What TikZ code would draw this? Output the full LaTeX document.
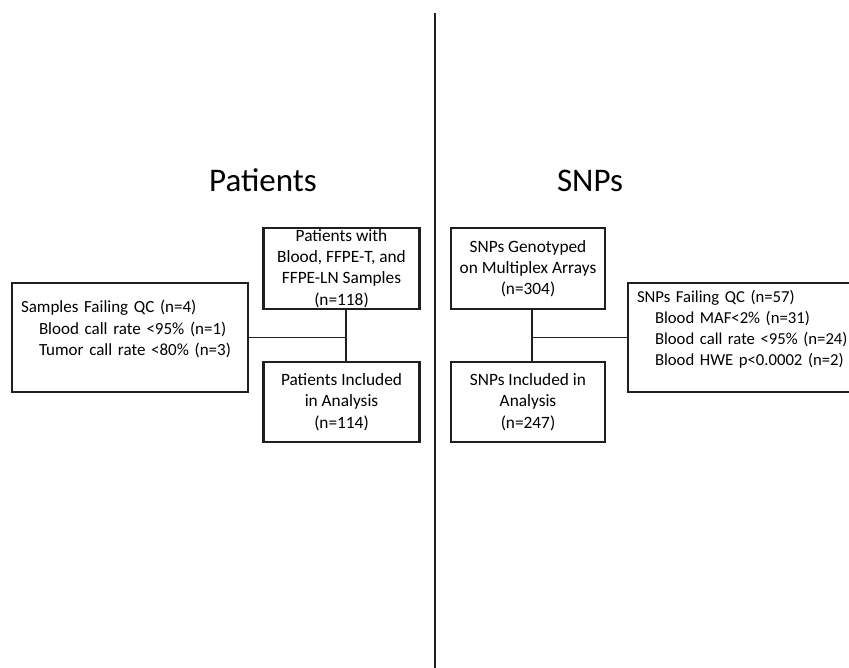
\documentclass[tikz,border=0pt]{standalone}
\usepackage{fontspec}
\setmainfont{Carlito}
\usetikzlibrary{calc}

\tikzset{
	flowbox/.style={draw=black!88, line width=2.2pt, align=center, inner sep=0pt, minimum width=156pt, minimum height=80pt, font=\fontsize{17.3}{21.3}\selectfont},
	qcbox/.style={draw=black!88, line width=2.2pt, align=left, inner xsep=9pt, inner ysep=0pt, minimum height=109pt, font=\fontsize{17}{21.3}\selectfont},
	link/.style={draw=black!88, line width=1.4pt},
	heading/.style={anchor=base, font=\fontsize{33}{40}\selectfont}
}

\begin{document}
\begin{tikzpicture}[x=1pt, y=-1pt]
		%%%%% START %%%%%
		\clip (0, 0) rectangle (849, 668);
		
		\coordinate (divtop) at (435, 13);
		\coordinate (divbot) at (435, 668);
		\draw[link] (divtop) -- (divbot);
		
		\node[heading] (pattitle) at (263, 192) {Patients};
		\node[heading] (snptitle) at (590, 192) {SNPs};
		
		% patients
		\node[flowbox, minimum height=81pt] (patwith) at (341.5, 268.5) {Patients with\\Blood, FFPE-T, and\\FFPE-LN Samples\\(n=118)};
		\node[flowbox] (patinc) at (341.5, 402) {Patients Included\\in Analysis\\(n=114)};
		\node[qcbox, text width=218pt] (patqc) at (130, 337.5) {Samples Failing QC (n=4)\\\hspace*{18pt}Blood call rate <95\% (n=1)\\\hspace*{18pt}Tumor call rate <80\% (n=3)\\[-2pt]\mbox{}};
		
		\coordinate (patjoin) at (346, 337.5);
		\draw[link] (patwith.south -| patjoin) -- (patinc.north -| patjoin);
		\draw[link] (patqc.east) -- (patjoin);
		
		% snps
		\node[flowbox, minimum width=154pt, minimum height=81pt] (snpgeno) at (528, 268.5) {SNPs Genotyped\\on Multiplex Arrays\\(n=304)};
		\node[flowbox, minimum width=154pt] (snpinc) at (528, 402) {SNPs Included in\\Analysis\\(n=247)};
		\node[qcbox, text width=222pt, font=\fontsize{16.7}{21.3}\selectfont] (snpqc) at (748, 337.5) {SNPs Failing QC (n=57)\\\hspace*{18pt}Blood MAF<2\% (n=31)\\\hspace*{18pt}Blood call rate <95\% (n=24)\\\hspace*{18pt}Blood HWE p<0.0002 (n=2)\\[-2pt]\mbox{}};
		
		\coordinate (snpjoin) at (532, 337.5);
		\draw[link] (snpgeno.south -| snpjoin) -- (snpinc.north -| snpjoin);
		\draw[link] (snpjoin) -- (snpqc.west);
		
		%%%%% END %%%%%
\end{tikzpicture}
\end{document}
